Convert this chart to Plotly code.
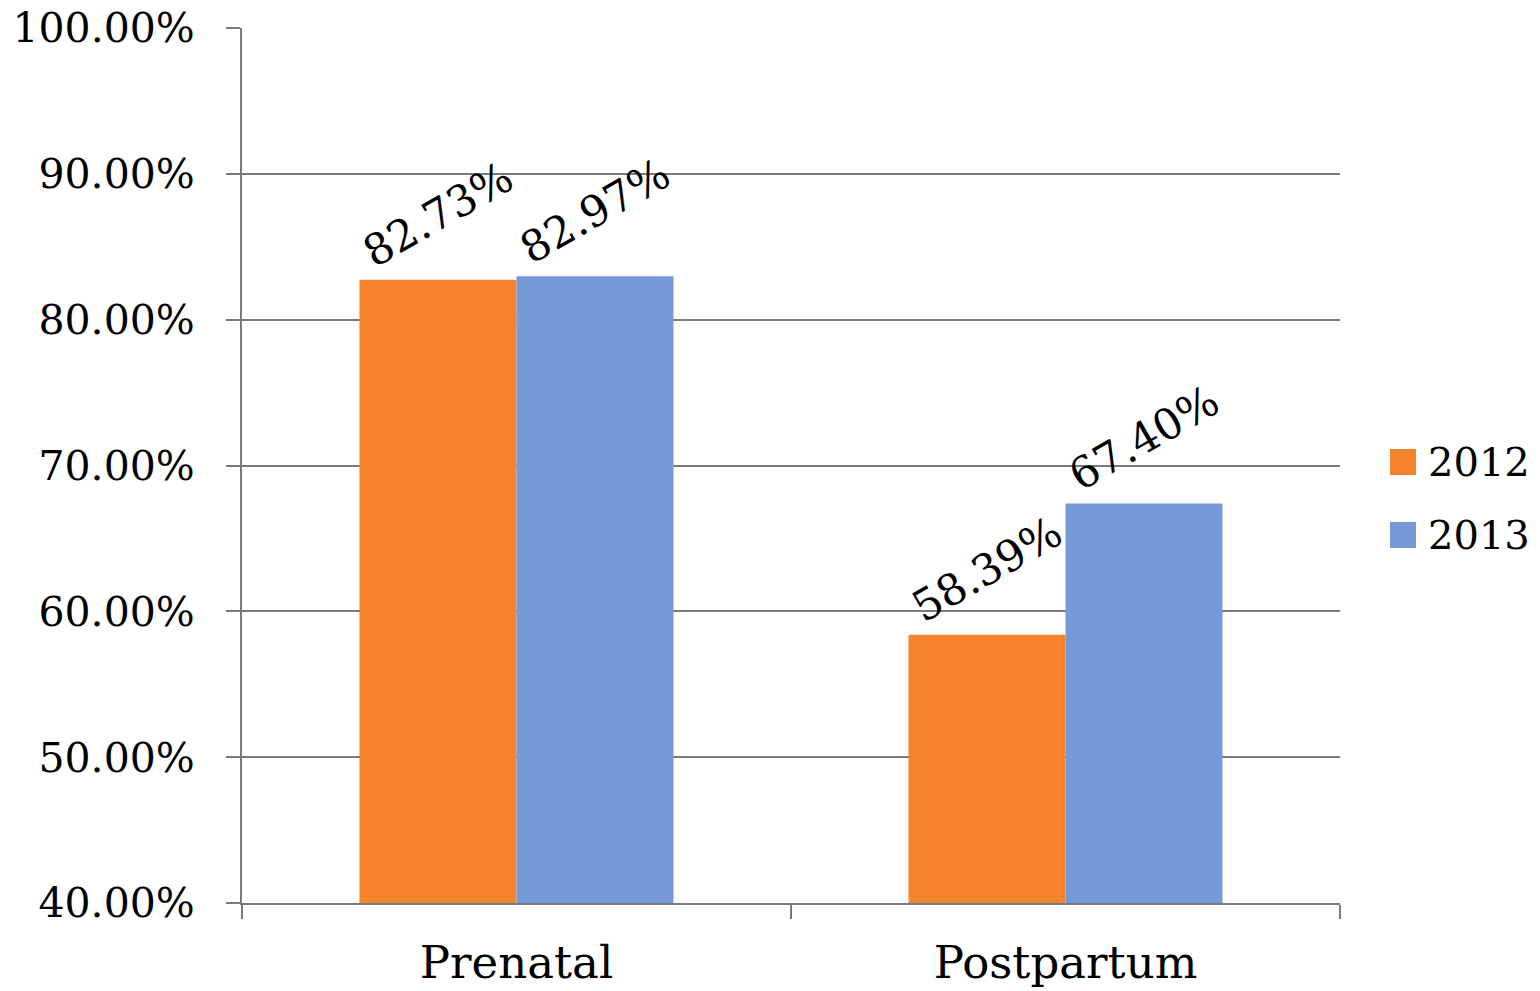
import plotly.graph_objects as go

# Care visit rates by period and year
categories = ["Prenatal", "Postpartum"]
years = ["2012", "2013"]
rates_2012 = [0.8273, 0.5839]
rates_2013 = [0.8297, 0.6740]
y_ticks = [0.4, 0.5, 0.6, 0.7, 0.8, 0.9, 1.0]

series = [rates_2012, rates_2013]
colors = ["#F5842D", "#7799D7"]
FONT = "DejaVu Serif"
GRAY = "#7A7A7A"

fig = go.Figure()
for name, vals, col in zip(years, series, colors):
    fig.add_trace(go.Bar(
        x=categories, y=vals, name=name,
        marker=dict(color=col, line=dict(width=0)),
        text=[f"{v:.2%}" for v in vals],
        textposition="outside", textangle=-30,
        constraintext="none", cliponaxis=False,
        textfont=dict(family=FONT, size=43, color="black"),
        showlegend=False,
    ))

# Legend drawn as shapes + text for larger swatches
for i, (name, col) in enumerate(zip(years, colors)):
    yc = (903 - 462 - i * 73) / 875
    fig.add_shape(type="rect", xref="x domain", yref="y domain",
                  x0=(1390 - 242) / 1098, x1=(1416 - 242) / 1098,
                  y0=yc - 13 / 875, y1=yc + 13 / 875,
                  fillcolor=col, line=dict(width=0))
    fig.add_annotation(xref="x domain", yref="y domain",
                       x=(1426 - 242) / 1098, y=yc, text=name,
                       showarrow=False, xanchor="left", yanchor="middle",
                       font=dict(family=FONT, size=40, color="black"))

fig.update_layout(
    width=1540, height=991,
    margin=dict(l=242, r=200, t=28, b=88),
    paper_bgcolor="white", plot_bgcolor="white",
    barmode="group", bargap=0.428, bargroupgap=0,
    font=dict(family=FONT, color="black"),
    showlegend=False,
)
fig.update_yaxes(
    range=[0.4, 1.0], tickvals=y_ticks, tickformat=".2%",
    showgrid=True, gridcolor=GRAY, gridwidth=2,
    showline=True, linecolor=GRAY, linewidth=2,
    ticks="outside", ticklen=14, tickcolor=GRAY, tickwidth=2,
    ticklabelstandoff=23, automargin=False,
    tickfont=dict(family=FONT, size=41, color="black"),
    zeroline=False,
)
fig.update_xaxes(
    showline=True, linecolor=GRAY, linewidth=2,
    ticks="outside", tickson="boundaries", ticklen=14,
    tickcolor=GRAY, tickwidth=2,
    ticklabelstandoff=19, automargin=False,
    tickfont=dict(family=FONT, size=45, color="black"),
)

fig.write_html("out.html")
